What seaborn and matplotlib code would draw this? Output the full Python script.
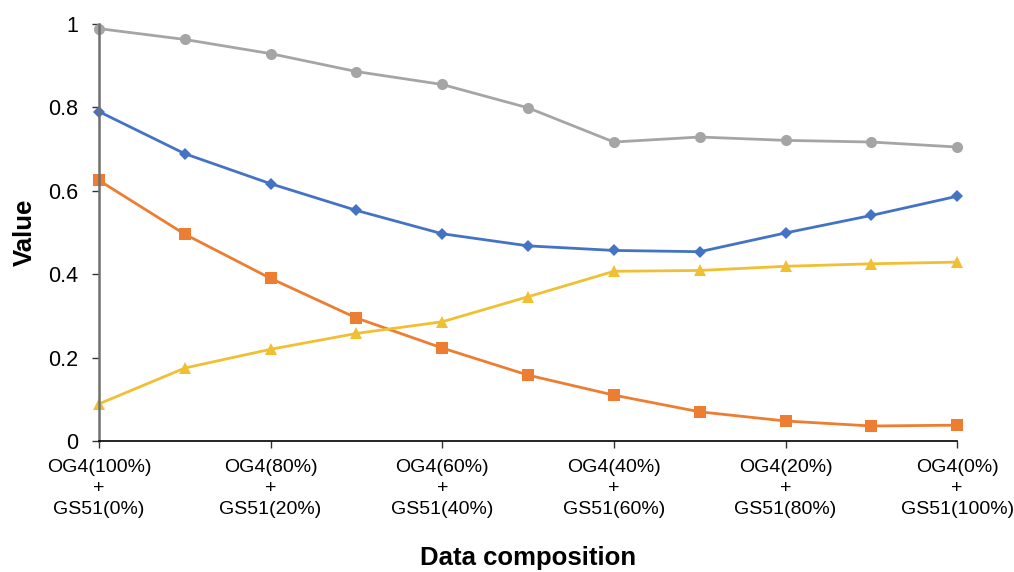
import numpy as np
import pandas as pd
import matplotlib
matplotlib.use("Agg")
import matplotlib.pyplot as plt
import seaborn as sns
from matplotlib.ticker import FuncFormatter

# Mixture steps: OG4 share falls from 100% to 0% in 10% steps
steps = list(range(11))
tick_steps = [0, 2, 4, 6, 8, 10]
tick_labels = [
    "OG4(100%)\n+\nGS51(0%)",
    "OG4(80%)\n+\nGS51(20%)",
    "OG4(60%)\n+\nGS51(40%)",
    "OG4(40%)\n+\nGS51(60%)",
    "OG4(20%)\n+\nGS51(80%)",
    "OG4(0%)\n+\nGS51(100%)",
]

series_blue = [0.790, 0.689, 0.617, 0.553, 0.497, 0.468, 0.457, 0.454, 0.499, 0.541, 0.587]
series_orange = [0.625, 0.496, 0.390, 0.295, 0.223, 0.158, 0.110, 0.070, 0.048, 0.036, 0.038]
series_gray = [0.989, 0.963, 0.929, 0.886, 0.855, 0.799, 0.717, 0.729, 0.721, 0.717, 0.705]
series_yellow = [0.089, 0.175, 0.220, 0.258, 0.286, 0.346, 0.407, 0.409, 0.419, 0.425, 0.429]

sns.set_theme(style="white")
plt.rcParams["font.family"] = ["Liberation Sans", "DejaVu Sans"]
plt.rcParams["text.color"] = "black"
plt.rcParams["axes.labelcolor"] = "black"
plt.rcParams["xtick.color"] = "black"
plt.rcParams["ytick.color"] = "black"

fig = plt.figure(figsize=(10.14, 5.72), dpi=100)
ax = fig.add_axes([0.0976, 0.229, 0.8464, 0.729])

styles = [
    (series_gray, "#A5A5A5", "o", 8),
    (series_blue, "#4472C4", "D", 6.5),
    (series_orange, "#ED7D31", "s", 8),
    (series_yellow, "#F0C032", "^", 8.5),
]
for values, color, marker, ms in styles:
    sns.lineplot(x=steps, y=values, ax=ax, color=color, marker=marker,
                 markersize=ms, markeredgewidth=0, linewidth=2, legend=False,
                 clip_on=False)

ax.set_xlim(0, 10)
ax.set_ylim(0, 1)
ax.set_xticks(tick_steps)
ax.set_xticklabels(tick_labels, fontsize=14, linespacing=1.32)
ax.set_yticks([0, 0.2, 0.4, 0.6, 0.8, 1.0])
ax.yaxis.set_major_formatter(FuncFormatter(lambda v, p: f"{v:g}"))
ax.tick_params(axis="y", labelsize=15.5, direction="out", length=5, width=1,
               color="#333333", left=True, pad=10)
ax.tick_params(axis="x", direction="out", length=5, width=1,
               color="#333333", bottom=True, pad=8)

for side in ["top", "right"]:
    ax.spines[side].set_visible(False)
ax.spines["left"].set_color("#707070")
ax.spines["left"].set_linewidth(1.8)
ax.spines["bottom"].set_color("#000000")
ax.spines["bottom"].set_linewidth(1.2)

ax.set_xlabel("Data composition", fontsize=18.5, fontweight="bold", labelpad=20)
ax.set_ylabel("Value", fontsize=18.5, fontweight="bold", labelpad=8)

fig.savefig("out.png", dpi=100)
